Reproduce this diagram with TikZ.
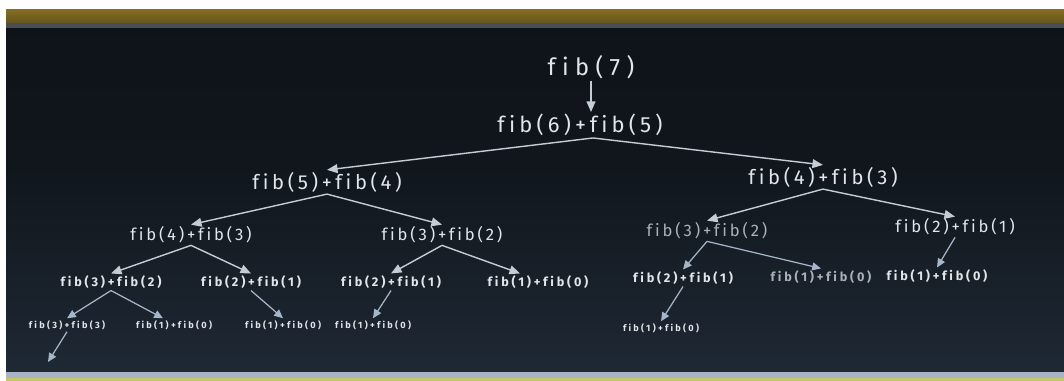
\documentclass[tikz,border=0pt]{standalone}
\usepackage{fontspec}
\setmainfont{Fira Sans}
\newfontfamily\chalkfont[LetterSpace=20, Ligatures=NoCommon]{Fira Sans}
\usepackage{xcolor}
\usetikzlibrary{calc, arrows.meta}

\definecolor{chalk}{RGB}{226,230,234}
\definecolor{dimchalk}{RGB}{170,177,185}
\definecolor{linechalk}{RGB}{196,204,212}
\definecolor{lowchalk}{RGB}{165,182,200}
\definecolor{boardtop}{RGB}{11,16,20}
\definecolor{boardmid}{RGB}{16,22,28}
\definecolor{boardbot}{RGB}{46,60,78}
\definecolor{ledge}{RGB}{132,108,30}
\definecolor{ledgedark}{RGB}{100,86,30}
\definecolor{rim}{RGB}{74,78,84}
\definecolor{rimlow}{RGB}{168,180,196}
\definecolor{floorband}{RGB}{200,196,108}

\pgfdeclareverticalshading{board}{100bp}{color(0bp)=(boardbot); color(30bp)=(boardmid!60!boardbot); color(55bp)=(boardmid); color(100bp)=(boardtop)}

\tikzset{
  fibnode/.style={text=chalk, inner sep=1pt},
  lvltop/.style={fibnode, font=\chalkfont\addfontfeature{LetterSpace=27}\fontsize{13.5}{15}\selectfont},
  lvlzero/.style={fibnode, font=\chalkfont\addfontfeature{LetterSpace=19}\fontsize{12.5}{14}\selectfont},
  lvlone/.style={fibnode, font=\chalkfont\addfontfeature{LetterSpace=18}\fontsize{11.5}{13}\selectfont},
  lvltwo/.style={fibnode, font=\chalkfont\addfontfeature{LetterSpace=17}\fontsize{9.5}{11}\selectfont},
  lvlthree/.style={fibnode, font=\chalkfont\bfseries\addfontfeature{LetterSpace=22}\fontsize{7.2}{9}\selectfont},
  lvlfour/.style={fibnode, font=\chalkfont\bfseries\addfontfeature{LetterSpace=25}\fontsize{5.2}{7}\selectfont},
  chalkarrow/.style={draw=linechalk, line width=0.8pt, -{Triangle[length=6pt,width=5pt]}},
  lowarrow/.style={draw=lowchalk, line width=0.7pt, -{Triangle[length=5pt,width=4.5pt]}}
}

\begin{document}
\begin{tikzpicture}[x=0.02cm, y=-0.02cm]

    % board and frame
    \useasboundingbox (0,0) rectangle (1064,381);
    \fill[white] (0,0) rectangle (1064,381);
    \shade[top color=ledge, bottom color=ledgedark] (6,10) rectangle (1064,23);
    \fill[rim] (6,23) rectangle (1064,29);
    \shade[shading=board] (6,29) rectangle (1064,372);
    \fill[rimlow] (6,372) rectangle (1064,378);
    \fill[floorband] (6,378) rectangle (1064,381);

    % level 0 and 1
    \node[lvltop] (top) at (591,67) {fib(7)};
    \node[lvlzero] (r) at (580,125) {fib(6)+fib(5)};

    % level 2
    \node[lvlone] (r1) at (327,182) {fib(5)+fib(4)};
    \node[lvlone] (r2) at (823,177) {fib(4)+fib(3)};

    % level 3
    \node[lvltwo] (r11) at (191,235) {fib(4)+fib(3)};
    \node[lvltwo] (r12) at (442,235) {fib(3)+fib(2)};
    \node[lvltwo, text=dimchalk] (r21) at (707,231) {fib(3)+fib(2)};
    \node[lvltwo] (r22) at (955,227) {fib(2)+fib(1)};

    % level 4
    \node[lvlthree] (r111) at (111,282) {fib(3)+fib(2)};
    \node[lvlthree] (r112) at (251,282) {fib(2)+fib(1)};
    \node[lvlthree] (r121) at (391,282) {fib(2)+fib(1)};
    \node[lvlthree] (r122) at (538,282) {fib(1)+fib(0)};
    \node[lvlthree] (r211) at (683,278) {fib(2)+fib(1)};
    \node[lvlthree, text=dimchalk] (r212) at (821,277) {fib(1)+fib(0)};
    \node[lvlthree] (r221) at (937,276) {fib(1)+fib(0)};

    % level 5
    \node[lvlfour] (r1111) at (67,325) {fib(3)+fib(3)};
    \node[lvlfour] (r1112) at (174,325) {fib(1)+fib(0)};
    \node[lvlfour] (r1121) at (283,325) {fib(1)+fib(0)};
    \node[lvlfour] (r1211) at (373,325) {fib(1)+fib(0)};
    \node[lvlfour] (r2111) at (661,328) {fib(1)+fib(0)};
    \coordinate (loose) at (48,362);

    % calls
    \draw[chalkarrow] (top.south) -- (top.south |- r.north);
    \draw[chalkarrow] ($(r.south)+(13,0)$) -- (r1.north);
    \draw[chalkarrow] ($(r.south)+(13,0)$) -- (r2.north);

    \draw[chalkarrow] (r1.south) -- (r11.north);
    \draw[chalkarrow] (r1.south) -- (r12.north);
    \draw[chalkarrow] (r2.south) -- (r21.north);
    \draw[chalkarrow] (r2.south) -- (r22.north);

    \draw[chalkarrow] (r11.south) -- (r111.north);
    \draw[chalkarrow] (r11.south) -- (r112.north);
    \draw[chalkarrow] (r12.south) -- (r121.north);
    \draw[chalkarrow] (r12.south) -- ($(r122.north)+(-18,0)$);
    \draw[lowarrow] (r21.south) -- (r211.north);
    \draw[lowarrow] (r21.south) -- (r212.north);
    \draw[lowarrow] (r22.south) -- (r221.north);

    \draw[lowarrow] (r111.south) -- (r1111.north);
    \draw[lowarrow] (r111.south) -- ($(r1112.north)+(-11,0)$);
    \draw[lowarrow] (r112.south) -- (r1121.north);
    \draw[lowarrow] (r121.south) -- (r1211.north);
    \draw[lowarrow] (r211.south) -- (r2111.north);
    \draw[lowarrow] (r1111.south) -- (loose);

\end{tikzpicture}
\end{document}
